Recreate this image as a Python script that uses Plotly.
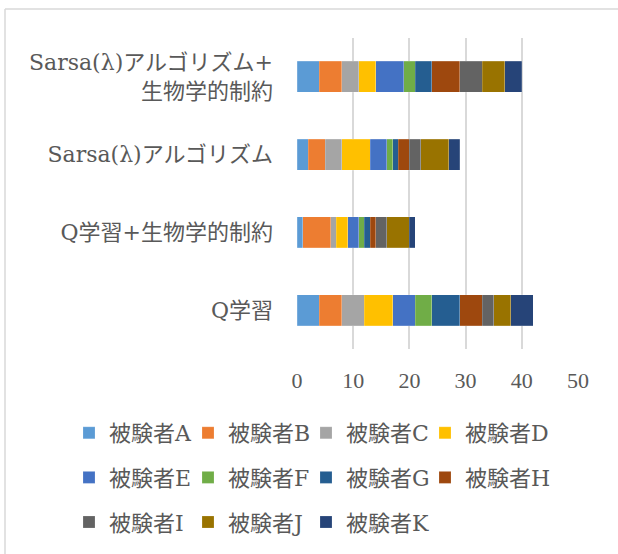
import plotly.graph_objects as go

categories = ["Q学習", "Q学習+生物学的制約", "Sarsa(λ)アルゴリズム", "Sarsa(λ)アルゴリズム+<br>生物学的制約"]
subjects = ["被験者A", "被験者B", "被験者C", "被験者D", "被験者E", "被験者F",
            "被験者G", "被験者H", "被験者I", "被験者J", "被験者K"]
# values per subject, order matches categories
values = {
    "被験者A": [4, 1, 2, 4],
    "被験者B": [4, 5, 3, 4],
    "被験者C": [4, 1, 3, 3],
    "被験者D": [5, 2, 5, 3],
    "被験者E": [4, 2, 3, 5],
    "被験者F": [3, 1, 1, 2],
    "被験者G": [5, 1, 1, 3],
    "被験者H": [4, 1, 2, 5],
    "被験者I": [2, 2, 2, 4],
    "被験者J": [3, 4, 5, 4],
    "被験者K": [4, 1, 2, 3],
}
colors = ["#5B9BD5", "#ED7D31", "#A5A5A5", "#FFC000", "#4472C4", "#70AD47",
          "#255E91", "#9E480E", "#636363", "#997300", "#264478"]
x_ticks = [0, 10, 20, 30, 40, 50]

FONT = "Liberation Serif, Noto Sans CJK JP, serif"
CAT_FONT = "DejaVu Serif, Noto Sans CJK JP, serif"
TXT = "#595959"
FS = 22

L, R, T, B = 297, 40, 38, 204
W, H = 618, 554
pw, ph = W - L - R, H - T - B


def px(x):
    return (x - L) / pw


def py(y):
    return (H - B - y) / ph


# legend laid out as 4 columns (one legend each), reading order A B C D / E F G H / I J K
legend_names = ["legend", "legend2", "legend3", "legend4"]

fig = go.Figure()
for i, (s, c) in enumerate(zip(subjects, colors)):
    fig.add_trace(go.Bar(
        y=categories, x=values[s], name=s, orientation="h",
        marker=dict(color=c, line=dict(color="rgba(255,255,255,0.35)", width=0.5)),
        legend=legend_names[i % 4], legendgroup=s,
    ))

col_x = [69, 188, 306, 425]
legend_common = dict(orientation="v", xanchor="left", yanchor="top",
                     traceorder="grouped", tracegroupgap=13,
                     font=dict(family=CAT_FONT, size=22, color=TXT), bgcolor="rgba(0,0,0,0)")

layout_legends = {}
for name, cx in zip(legend_names, col_x):
    layout_legends[name] = dict(x=px(cx), y=py(412), **legend_common)

fig.update_layout(
    barmode="stack", bargap=0.6,
    width=W, height=H,
    margin=dict(l=L, r=R, t=T, b=B),
    paper_bgcolor="white", plot_bgcolor="white",
    font=dict(family=FONT, size=FS, color=TXT),
    xaxis=dict(range=[0, 50], tickvals=x_ticks, showgrid=True, gridcolor="#D9D9D9",
               gridwidth=1.5, zeroline=False, showline=False, ticks="",
               tickfont=dict(family=FONT, size=FS, color=TXT), ticklabelstandoff=16),
    yaxis=dict(showgrid=False, zeroline=False, showline=False, ticks="",
               tickfont=dict(family=CAT_FONT, size=22, color=TXT), ticklabelstandoff=23),
    showlegend=True,
    shapes=[
        dict(type="line", xref="paper", yref="paper", x0=px(5), x1=px(620), y0=py(9), y1=py(9),
             line=dict(color="#D9D9D9", width=1.5)),
        dict(type="line", xref="paper", yref="paper", x0=px(5), x1=px(5), y0=py(9), y1=py(560),
             line=dict(color="#D9D9D9", width=1.5)),
    ],
    **layout_legends,
)

fig.write_html("out.html")
